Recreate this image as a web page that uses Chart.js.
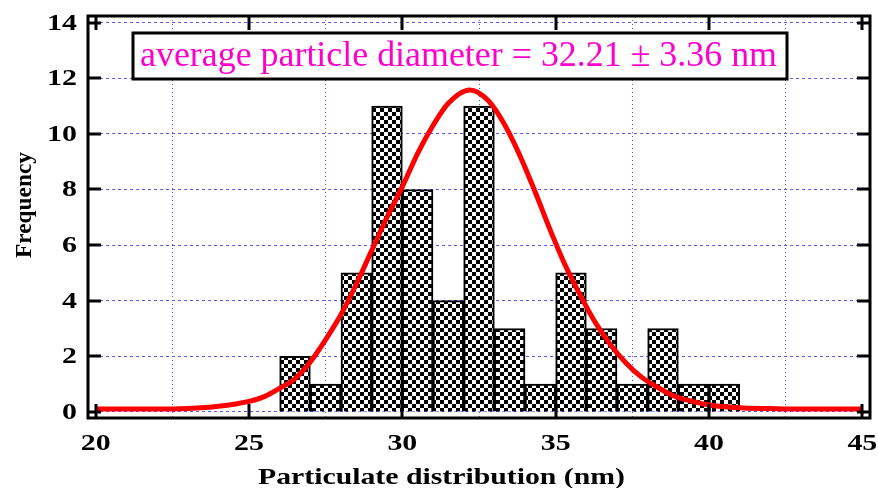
<!DOCTYPE html>
<html>
<head>
<meta charset="utf-8">
<script src="https://cdn.jsdelivr.net/npm/chart.js@4.4.1/dist/chart.umd.min.js"></script>
<style>
  html, body { margin: 0; padding: 0; background: #fff; }
  #wrap { width: 878px; height: 488px; }
</style>
</head>
<body>
<div id="wrap"><canvas id="chart"></canvas></div>
<script>
// histogram bins (nm) and counts
const binStarts = [26, 27, 28, 29, 30, 31, 32, 33, 34, 35, 36, 37, 38, 39, 40]
const counts = [2, 1, 5, 11, 8, 4, 11, 3, 1, 5, 3, 1, 3, 1, 1]

// red fitted curve
const fitX = [20, 21, 22, 23, 24, 25, 25.5, 26, 26.5, 27, 27.5, 28, 28.5, 29, 29.5, 30, 30.5, 31, 31.5, 32.2,
  32.8, 33.3, 33.8, 34.3, 34.8, 35.3, 35.8, 36.3, 36.8, 37.3, 37.8, 38.3, 38.8, 39.3, 40, 41, 42, 43, 44, 45]
const fitY = [0.1, 0.1, 0.1, 0.12, 0.2, 0.38, 0.55, 0.85, 1.2, 1.8, 2.6, 3.5, 4.6, 5.8, 7.0, 8.1, 9.3, 10.3, 11.1, 11.58,
  11.2, 10.4, 9.3, 8.0, 6.6, 5.3, 4.2, 3.2, 2.4, 1.75, 1.25, 0.9, 0.6, 0.42, 0.25, 0.15, 0.12, 0.1, 0.1, 0.1]

const xTicks = [20, 25, 30, 35, 40, 45]
const yTicks = [0, 2, 4, 6, 8, 10, 12, 14]
const noteText = 'average particle diameter = 32.21 \u00b1 3.36 nm'

function checkerPattern() {
  const c = document.createElement('canvas')
  c.width = 8; c.height = 8
  const g = c.getContext('2d')
  g.fillStyle = '#fff'
  g.fillRect(0, 0, 8, 8)
  g.fillStyle = '#000'
  g.fillRect(0, 0, 4, 4)
  g.fillRect(4, 4, 4, 4)
  return g.createPattern(c, 'repeat')
}

// text stretched horizontally by a factor, anchored by align
function wideText(ctx, text, x, y, sx, align) {
  const w = ctx.measureText(text).width * sx
  const x0 = align === 'right' ? x - w : align === 'center' ? x - w / 2 : x
  ctx.save()
  ctx.translate(x0, y)
  ctx.scale(sx, 1)
  ctx.fillText(text, 0, 0)
  ctx.restore()
}

// text stretched horizontally to a target width
function fitText(ctx, text, x, y, width) {
  wideText(ctx, text, x, y, width / ctx.measureText(text).width, 'left')
}

const framePlugin = {
  id: 'frame',
  afterDraw(chart) {
    const { ctx, chartArea: a, scales: { x, y } } = chart
    ctx.save()
    ctx.strokeStyle = '#000'
    ctx.lineWidth = 3
    ctx.strokeRect(a.left, a.top, a.right - a.left, a.bottom - a.top)

    // inward tick marks on all four sides
    ctx.beginPath()
    x.ticks.forEach(t => {
      const px = Math.round(x.getPixelForValue(t.value))
      ctx.moveTo(px, a.bottom); ctx.lineTo(px, a.bottom - 14)
      ctx.moveTo(px, a.top); ctx.lineTo(px, a.top + 14)
    })
    y.ticks.forEach(t => {
      const py = Math.round(y.getPixelForValue(t.value))
      ctx.moveTo(a.left, py); ctx.lineTo(a.left + 13, py)
      ctx.moveTo(a.right, py); ctx.lineTo(a.right - 13, py)
    })
    ctx.stroke()

    // tick labels, wide bold serif like the original
    ctx.fillStyle = '#000'
    ctx.font = 'bold 23px "Liberation Serif"'
    ctx.textBaseline = 'middle'
    x.ticks.forEach(t => wideText(ctx, String(t.value), x.getPixelForValue(t.value), 444, 1.3, 'center'))
    y.ticks.forEach(t => wideText(ctx, String(t.value), 77, y.getPixelForValue(t.value) + 1, 1.3, 'right'))

    // annotation box
    ctx.textBaseline = 'alphabetic'
    ctx.fillStyle = '#fff'
    ctx.fillRect(133, 33, 654, 46)
    ctx.strokeRect(133, 33, 654, 46)
    ctx.fillStyle = '#ff00cc'
    ctx.font = '35px "Liberation Serif"'
    fitText(ctx, noteText, 140, 66, 637)

    // axis titles
    ctx.fillStyle = '#000'
    ctx.font = 'bold 24px "Liberation Serif"'
    fitText(ctx, 'Particulate distribution (nm)', 258, 484, 367)
    ctx.save()
    ctx.translate(31, 258)
    ctx.rotate(-Math.PI / 2)
    ctx.font = 'bold 23px "Liberation Serif"'
    fitText(ctx, 'Frequency', 0, 0, 106)
    ctx.restore()
    ctx.restore()
  }
}

new Chart(document.getElementById('chart'), {
  data: {
    datasets: [
      {
        type: 'line',
        data: fitX.map((v, i) => ({ x: v, y: fitY[i] })),
        borderColor: '#ff0000',
        borderWidth: 5,
        pointRadius: 0,
        cubicInterpolationMode: 'monotone',
        order: 0
      },
      {
        type: 'bar',
        data: binStarts.map((v, i) => ({ x: v + 0.5, y: counts[i] })),
        backgroundColor: checkerPattern(),
        borderColor: '#000',
        borderWidth: 2,
        barPercentage: 1,
        categoryPercentage: 1,
        order: 1
      }
    ]
  },
  options: {
    responsive: true,
    maintainAspectRatio: false,
    animation: false,
    layout: { padding: { top: 16, right: 8, left: 0, bottom: 0 } },
    plugins: { legend: { display: false }, tooltip: { enabled: false } },
    scales: {
      x: {
        type: 'linear',
        offset: false,
        min: 19.75,
        max: 45.25,
        afterBuildTicks: s => { s.ticks = xTicks.map(v => ({ value: v })) },
        afterFit: s => { s.height = 70 },
        grid: { color: '#5a5aff', lineWidth: 1, drawTicks: false },
        border: { display: false, dash: [1, 3] },
        ticks: { display: false }
      },
      y: {
        min: -0.22,
        max: 14.24,
        afterBuildTicks: s => { s.ticks = yTicks.map(v => ({ value: v })) },
        afterFit: s => { s.width = 88 },
        grid: { color: '#5a5aff', lineWidth: 1, drawTicks: false },
        border: { display: false, dash: [3, 3] },
        ticks: { display: false }
      }
    }
  },
  plugins: [framePlugin]
})
</script>
</body>
</html>
